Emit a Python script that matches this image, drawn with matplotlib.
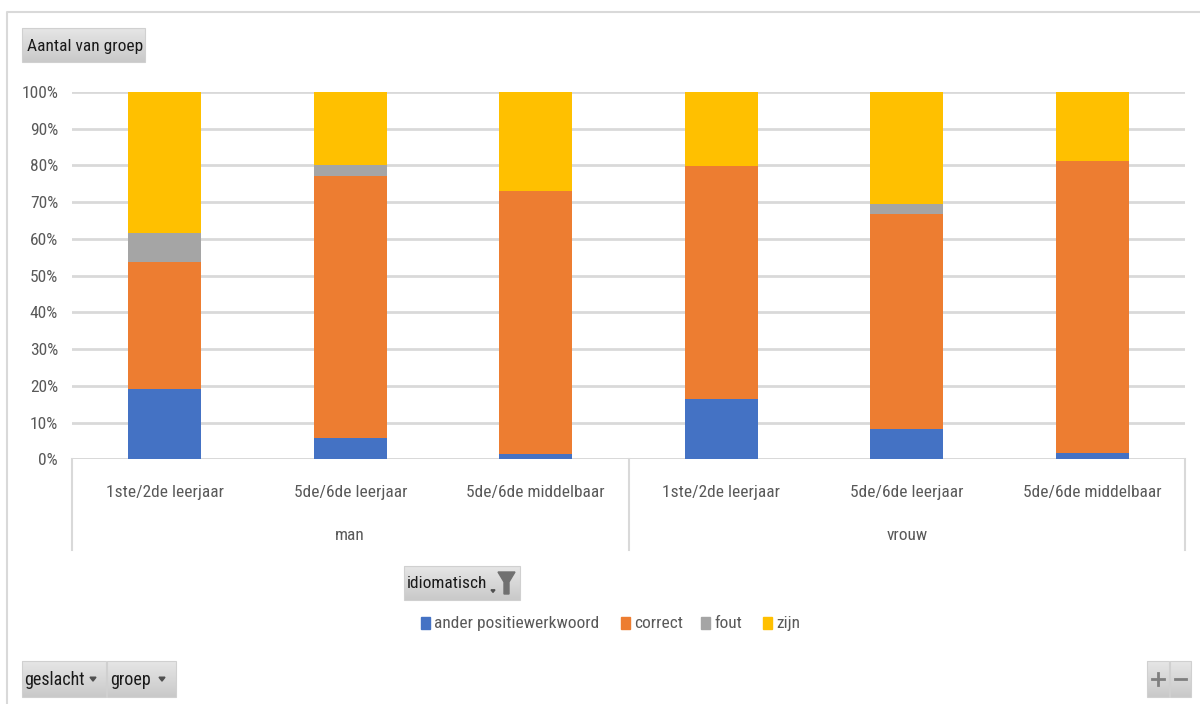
import numpy as np
import matplotlib
matplotlib.use("Agg")
import matplotlib.pyplot as plt
from matplotlib import font_manager
from matplotlib.patches import Rectangle, Polygon

# pick a narrow font close to Calibri if one is there
installed = {f.name for f in font_manager.fontManager.ttflist}
for name in ["Liberation Sans Narrow", "Roboto Condensed", "Liberation Sans", "DejaVu Sans"]:
    if name in installed:
        FONT = name
        break
plt.rcParams["font.family"] = [FONT, "DejaVu Sans"]

# data: share per answer type (%), per geslacht / groep
genders = ["man", "vrouw"]
groups = ["1ste/2de leerjaar", "5de/6de leerjaar", "5de/6de middelbaar"]
series = ["ander positiewerkwoord", "correct", "fout", "zijn"]
ander = [19.2, 5.9, 1.4, 16.4, 8.3, 1.7]
correct = [34.6, 71.3, 71.7, 63.5, 58.4, 79.6]
fout = [7.7, 3.0, 0.0, 0.0, 2.7, 0.0]
zijn = [38.5, 19.8, 26.9, 20.1, 30.6, 18.7]
colors = ["#4472C4", "#ED7D31", "#A5A5A5", "#FFC000"]

W, H = 1200, 704
fig = plt.figure(figsize=(W / 100, H / 100), dpi=100)
fig.patch.set_facecolor("white")

# plot area in pixels
x0, x1, ytop, ybot = 72, 1185, 92, 459.3
ax = fig.add_axes([x0 / W, (H - ybot) / H, (x1 - x0) / W, (ybot - ytop) / H])

xs = np.arange(len(genders) * len(groups))
bottom = np.zeros(len(xs))
for vals, col in zip([ander, correct, fout, zijn], colors):
    vals = np.array(vals)
    ax.bar(xs, vals, bottom=bottom, width=0.395, color=col, zorder=3)
    bottom += vals

ax.set_xlim(-0.5, len(xs) - 0.5)
ax.set_ylim(0, 100)
ax.set_yticks(range(0, 101, 10))
ax.set_yticklabels([f"{v}%" for v in range(0, 101, 10)], color="#595959", fontsize=12.5)
ax.tick_params(axis="y", length=0, pad=10)
ax.set_xticks([])
ax.grid(axis="y", color="#D9D9D9", lw=2, zorder=0)
for s in ax.spines.values():
    s.set_visible(False)
ax.axhline(0, color="#D9D9D9", lw=2, zorder=2)

# two-level category axis
ph = ybot - ytop
tr = ax.get_xaxis_transform()
for i, x in enumerate(xs):
    ax.text(x, -(492 - ybot) / ph, groups[i % len(groups)], transform=tr,
            ha="center", va="center", fontsize=12.5, color="#595959")
for j, g in enumerate(genders):
    ax.text(j * 3 + 1, -(536 - ybot) / ph, g, transform=tr,
            ha="center", va="center", fontsize=12.5, color="#595959")
for xv in [-0.5, 2.5, 5.5]:
    ax.plot([xv, xv], [0, -(550 - ybot) / ph], transform=tr, color="#D9D9D9",
            lw=1.5, clip_on=False)

# overlay in pixel coordinates for the pivot buttons and legend
ov = fig.add_axes([0, 0, 1, 1], facecolor="none")
ov.set_xlim(0, W)
ov.set_ylim(H, 0)
ov.axis("off")

# chart border
ov.plot([7, 7, W], [H, 12, 12], color="#D9D9D9", lw=1.5)

grad = np.linspace(0, 1, 64).reshape(-1, 1)
btn_cmap = matplotlib.colors.LinearSegmentedColormap.from_list("btn", ["#E6E6E6", "#C9C9C9"])


def button(xa, xb, ya, yb, label=None, fs=12.5, tx=None):
    ov.imshow(grad, extent=(xa, xb, yb, ya), cmap=btn_cmap, aspect="auto", zorder=2,
              interpolation="bilinear")
    ov.add_patch(Rectangle((xa, ya), xb - xa, yb - ya, fill=False, ec="#D0D0D0", lw=0.8, zorder=3))
    if label:
        ov.text(tx if tx is not None else xa + 4, (ya + yb) / 2 + 1, label, ha="left", va="center",
                fontsize=fs, color="#1A1A1A", zorder=4)


def arrow(cx, cy, size=3):
    ov.add_patch(Polygon([[cx - size, cy - size * 0.6], [cx + size, cy - size * 0.6], [cx, cy + size * 0.7]],
                         color="#505050", zorder=4))


button(22, 145, 28, 62, "Aantal van groep", fs=12.5, tx=27)
button(404, 520, 566, 600, "idiomatisch", fs=12.5, tx=407)
# dropdown mark and funnel on the idiomatisch button
arrow(493, 591, 2)
ov.add_patch(Polygon([[498, 572], [515, 572], [509, 582], [509, 594], [504, 594], [504, 582]],
                     color="#707070", zorder=4))

button(22, 106, 661, 697, "geslacht", fs=13, tx=24)
arrow(93, 679)
button(107, 176, 661, 697, "groep", fs=13, tx=110)
arrow(162, 679)

button(1147, 1169, 661, 697)
button(1170, 1191, 661, 697)
ov.plot([1152, 1164], [679, 679], color="#7F7F7F", lw=2, zorder=4)
ov.plot([1158, 1158], [673, 685], color="#7F7F7F", lw=2, zorder=4)
ov.plot([1175, 1186], [679, 679], color="#7F7F7F", lw=2, zorder=4)

# legend
leg_x = [421, 621, 701, 763]
for lx, name, col in zip(leg_x, series, colors):
    ov.add_patch(Rectangle((lx, 617), 9, 12, color=col, zorder=4))
    ov.text(lx + 13, 623.5, name, ha="left", va="center", fontsize=12.5, color="#595959", zorder=4)

fig.savefig("out.png", dpi=100)
